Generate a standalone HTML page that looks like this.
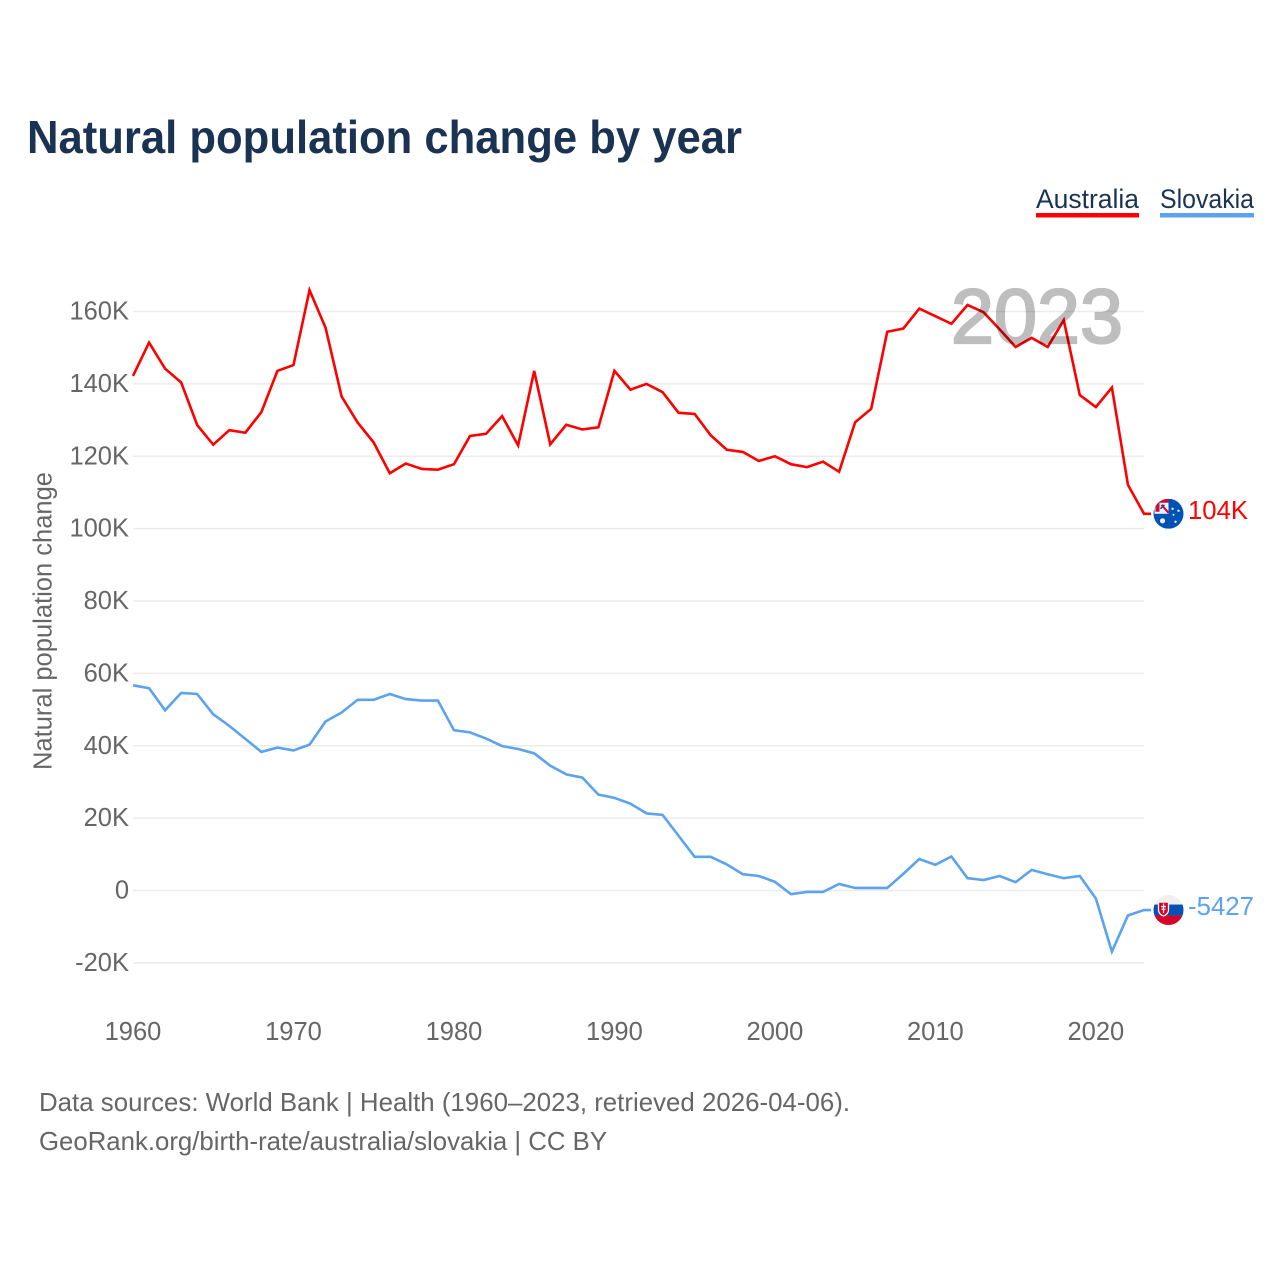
<!DOCTYPE html>
<html lang="en">
<head>
<meta charset="utf-8">
<title>Natural population change by year</title>
<style>
html,body{margin:0;padding:0;background:#fff;width:1280px;height:1280px;overflow:hidden}
svg{display:block}
text{font-family:"Liberation Sans",sans-serif}
.tick{font-size:25.5px;fill:#666}
.src{font-size:26px;fill:#666}
</style>
</head>
<body>
<svg id="chart" width="1280" height="1280" viewBox="0 0 1280 1280" xmlns="http://www.w3.org/2000/svg">
  <rect width="1280" height="1280" fill="#fff"/>
  <text x="27" y="153" font-size="46" font-weight="700" fill="#1a3353" textLength="715" lengthAdjust="spacingAndGlyphs">Natural population change by year</text>

  <g>
    <g>
      <text x="1036" y="208" font-size="27" fill="#1a3353" textLength="103" lengthAdjust="spacingAndGlyphs">Australia</text>
      <rect x="1036" y="213" width="103" height="4.5" fill="#ff0000"/>
    </g>
    <g>
      <text x="1160" y="208" font-size="27" fill="#1a3353" textLength="94" lengthAdjust="spacingAndGlyphs">Slovakia</text>
      <rect x="1160" y="213" width="94" height="4.5" fill="#5ba3ee"/>
    </g>
  </g>

  <text transform="translate(51.500,770) rotate(-90)" x="0" y="0" font-size="25.5" fill="#666" textLength="298" lengthAdjust="spacingAndGlyphs">Natural population change</text>

  <g id="grid"></g>
  <g id="yticks"></g>
  <g id="xticks"></g>
  <g id="lines"></g>

  <text x="951" y="343" font-size="77" fill="#000" stroke="#000" stroke-width="2.2" opacity="0.25" textLength="172" lengthAdjust="spacingAndGlyphs">2023</text>

  <defs>
    <clipPath id="flagClip"><circle cx="0" cy="0" r="15"/></clipPath>
  </defs>

  <g id="flagAU" clip-path="url(#flagClip)">
    <rect x="-15" y="-15" width="30" height="30" fill="#0052b4"/>
    <rect x="-14" y="-15" width="14" height="15" fill="#f0f0f0"/>
    <path d="M-13,-15 H0 V-11 H-9 V-2 H-13 Z" fill="#c8102e"/>
    <path d="M-7,-9 L0,-1" stroke="#d80027" stroke-width="2" fill="none"/>
    <path d="M-8,-5 L-4,-9" stroke="#0052b4" stroke-width="1.6" fill="none"/>
    <circle cx="-6" cy="7" r="2.6" fill="#f0f0f0"/>
    <circle cx="4" cy="-5" r="1.2" fill="#f0f0f0"/>
    <circle cx="10" cy="-3" r="1.2" fill="#f0f0f0"/>
    <circle cx="5" cy="1" r="1" fill="#f0f0f0"/>
    <circle cx="7" cy="8" r="1.2" fill="#f0f0f0"/>
  </g>
  <text id="labelAU" x="1188" font-size="26" fill="#ff0000" textLength="60" lengthAdjust="spacingAndGlyphs">104K</text>

  <g id="flagSK" clip-path="url(#flagClip)">
    <rect x="-15" y="-16" width="30" height="32" fill="#f0f0f0"/>
    <rect x="-15" y="-5.500" width="30" height="11" fill="#0052b4"/>
    <rect x="-15" y="5.500" width="30" height="11" fill="#d80027"/>
    <path d="M-10,-8 H0 V0 Q0,4 -5,6 Q-10,4 -10,0 Z" fill="#d80027" stroke="#f0f0f0" stroke-width="1.3"/>
    <path d="M-5,-6.500 V3 M-7.500,-3.500 H-2.500 M-7,-0.800 H-3" stroke="#f0f0f0" stroke-width="1.3" fill="none"/>
  </g>
  <text id="labelSK" x="1188" font-size="26" fill="#5ba3ee" textLength="66" lengthAdjust="spacingAndGlyphs">-5427</text>

  <text class="src" x="39" y="1111" textLength="811" lengthAdjust="spacingAndGlyphs">Data sources: World Bank | Health (1960–2023, retrieved 2026-04-06).</text>
  <text class="src" x="39" y="1150" textLength="568" lengthAdjust="spacingAndGlyphs">GeoRank.org/birth-rate/australia/slovakia | CC BY</text>
</svg>

<script>
const firstYear = 1960;
const yTickValues = [160000, 140000, 120000, 100000, 80000, 60000, 40000, 20000, 0, -20000];
const yTickLabels = ["160K", "140K", "120K", "100K", "80K", "60K", "40K", "20K", "0", "-20K"];
const xTickYears = [1960, 1970, 1980, 1990, 2000, 2010, 2020];
const australia = [142.2,151.4,144.2,140.4,128.6,123.2,127.2,126.5,132.2,143.6,145.2,165.9,155.5,136.5,129.3,123.8,115.3,118,116.5,116.3,117.8,125.6,126.2,131.1,123,143.6,123.3,128.7,127.4,128,143.6,138.4,140,137.7,132,131.7,125.8,121.8,121.2,118.7,120,117.8,117,118.5,115.7,129.4,133.1,154.4,155.3,160.8,158.7,156.6,161.8,159.8,155.1,150.2,152.7,150.2,157.6,136.9,133.6,139,112.1,104.1];
const slovakia = [56.7,55.9,49.8,54.6,54.3,48.7,45.5,41.9,38.3,39.5,38.7,40.3,46.7,49.2,52.7,52.7,54.3,52.9,52.5,52.5,44.3,43.7,42,39.9,39.1,37.9,34.5,32.1,31.2,26.5,25.6,24,21.3,20.9,15.1,9.3,9.3,7.2,4.5,4,2.4,-1,-0.4,-0.4,1.8,0.7,0.7,0.7,4.6,8.7,7.1,9.4,3.4,2.9,4,2.3,5.7,4.5,3.4,4,-2.2,-16.9,-6.9,-5.4];

const NS = 'http://www.w3.org/2000/svg';
function xScale(year) { return 133 + (year - 1960) * (1144 - 133) / 63; }
function yScale(value) { return 890.5 - value * 579 / 160000; }

const grid = document.getElementById('grid');
const yticks = document.getElementById('yticks');
yTickValues.forEach(function (v, i) {
  const line = document.createElementNS(NS, 'line');
  
  
  line.setAttribute('x1', 133);
  line.setAttribute('x2', 1144);
  line.setAttribute('y1', yScale(v));
  line.setAttribute('y2', yScale(v));
  line.setAttribute('stroke', '#ececec');
  line.setAttribute('stroke-width', '1.5');
  grid.appendChild(line);
  const t = document.createElementNS(NS, 'text');
  
  
  t.setAttribute('class', 'tick');
  t.setAttribute('x', 129);
  t.setAttribute('y', yScale(v) + 8);
  t.setAttribute('text-anchor', 'end');
  t.textContent = yTickLabels[i];
  yticks.appendChild(t);
});

const xticks = document.getElementById('xticks');
xTickYears.forEach(function (year) {
  const t = document.createElementNS(NS, 'text');
  
  
  t.setAttribute('class', 'tick');
  t.setAttribute('x', xScale(year));
  t.setAttribute('y', 1040);
  t.setAttribute('text-anchor', 'middle');
  t.textContent = String(year);
  xticks.appendChild(t);
});

function linePoints(series) {
  const pts = series.map(function (k, i) {
    return xScale(firstYear + i).toFixed(2) + ',' + yScale(k * 1000).toFixed(2);
  });
  const lastY = yScale(series[series.length - 1] * 1000).toFixed(2);
  pts.push((xScale(firstYear + series.length - 1) + 7).toFixed(2) + ',' + lastY);
  return pts.join(' ');
}

const lines = document.getElementById('lines');
const redLine = document.createElementNS(NS, 'polyline');


redLine.setAttribute('points', linePoints(australia));
redLine.setAttribute('fill', 'none');
redLine.setAttribute('stroke', '#ff0000');
redLine.setAttribute('stroke-width', '2.6');
lines.appendChild(redLine);

const blueLine = document.createElementNS(NS, 'polyline');


blueLine.setAttribute('points', linePoints(slovakia));
blueLine.setAttribute('fill', 'none');
blueLine.setAttribute('stroke', '#5ba3ee');
blueLine.setAttribute('stroke-width', '2.6');
lines.appendChild(blueLine);

const auY = yScale(australia[australia.length - 1] * 1000);
const skY = yScale(slovakia[slovakia.length - 1] * 1000);
document.getElementById('flagAU').setAttribute('transform', 'translate(1168.5,' + auY + ')');
document.getElementById('flagSK').setAttribute('transform', 'translate(1168.5,' + skY + ')');
document.getElementById('labelAU').setAttribute('y', auY + 5);
document.getElementById('labelSK').setAttribute('y', skY + 5);
</script>
</body>
</html>
